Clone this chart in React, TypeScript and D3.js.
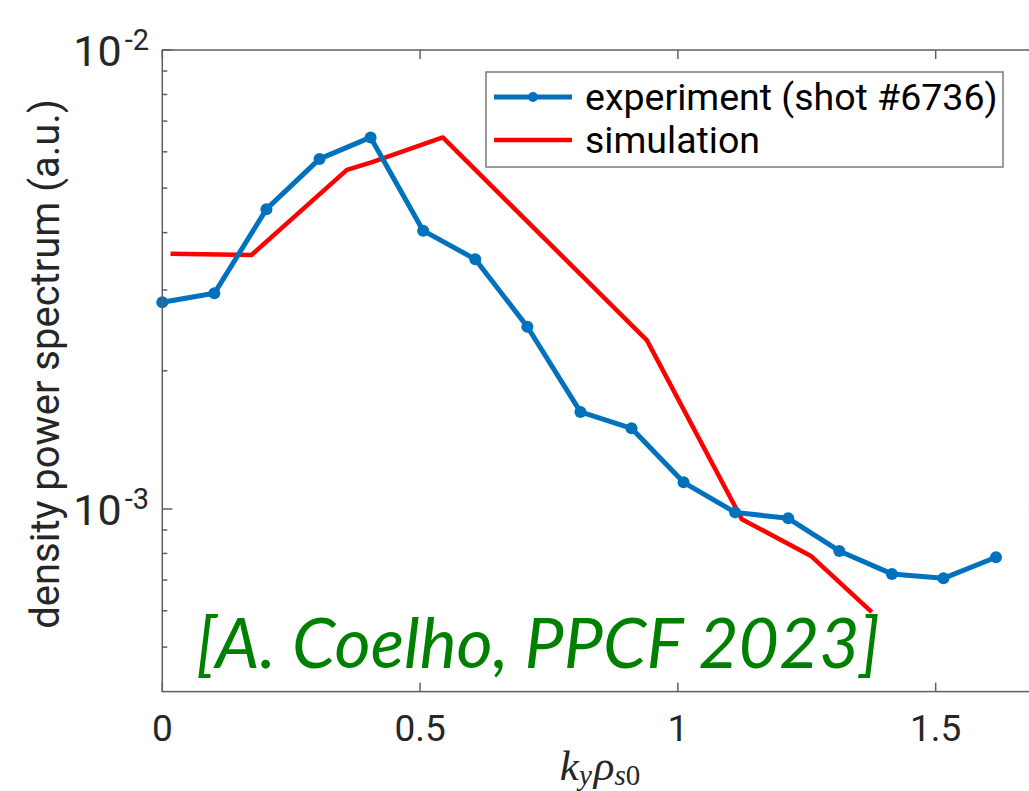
import React from "react";
import * as d3 from "d3";

// experiment (shot #6736)
const expK = [0, 0.101, 0.202, 0.305, 0.404, 0.506, 0.607, 0.708, 0.811, 0.91, 1.011, 1.111, 1.214, 1.313, 1.415, 1.515, 1.617];
const expP = [2.82e-3, 2.95e-3, 4.5e-3, 5.79e-3, 6.45e-3, 4.04e-3, 3.5e-3, 2.495e-3, 1.627e-3, 1.499e-3, 1.143e-3, 9.83e-4, 9.54e-4, 8.1e-4, 7.22e-4, 7.06e-4, 7.85e-4];
// simulation
const simK = [0.016, 0.173, 0.358, 0.407, 0.544, 0.94, 1.124, 1.258, 1.376];
const simP = [3.6e-3, 3.575e-3, 5.48e-3, 5.7e-3, 6.45e-3, 2.33e-3, 9.5e-4, 7.9e-4, 5.96e-4];

const xTicks = [0, 0.5, 1, 1.5];
const xTickLabels = ["0", "0.5", "1", "1.5"];
const yMajor = [1e-3, 1e-2];
const yMajorExp = ["-3", "-2"];
const yMinor = [5e-4, 6e-4, 7e-4, 8e-4, 9e-4, 2e-3, 3e-3, 4e-3, 5e-3, 6e-3, 7e-3, 8e-3, 9e-3];

const W = 1029, H = 791;
const L = 162.3, R = 1038.8, T = 50, B = 691.6;

export default function App() {
  const x = d3.scaleLinear().domain([0, 1.7]).range([L, R]);
  const y = d3.scaleLog().domain([4e-4, 1e-2]).range([B, T]);
  const line = d3.line<[number, number]>().x(d => x(d[0])).y(d => y(d[1]));
  const expPts = expK.map((k, i) => [k, expP[i]] as [number, number]);
  const simPts = simK.map((k, i) => [k, simP[i]] as [number, number]);
  const axisColor = "#5f5f5f";
  const textColor = "#262626";
  const font = "Roboto, 'Liberation Sans', Arial, sans-serif";
  const blue = "#0072BD";
  const red = "#FF0000";

  return (
    <svg width={W} height={H} style={{ position: "absolute", left: 0, top: 0, background: "#fff" }}>
      <rect x={0} y={0} width={W} height={H} fill="#fff" />
      {/* data */}
      <path d={line(simPts) || ""} fill="none" stroke={red} strokeWidth={4.5} strokeLinejoin="round" />
      <path d={line(expPts) || ""} fill="none" stroke={blue} strokeWidth={5} strokeLinejoin="round" />
      {expPts.map((p, i) => (
        <circle key={i} cx={x(p[0])} cy={y(p[1])} r={6} fill={blue} />
      ))}

      {/* axes box */}
      <rect x={L} y={T} width={R - L} height={B - T} fill="none" stroke={axisColor} strokeWidth={1.5} />
      {xTicks.map((t, i) => (
        <g key={i}>
          <line x1={x(t)} x2={x(t)} y1={B} y2={B - 9} stroke={axisColor} strokeWidth={1.5} />
          <line x1={x(t)} x2={x(t)} y1={T} y2={T + 9} stroke={axisColor} strokeWidth={1.5} />
          <text x={x(t)} y={741} textAnchor="middle" fontFamily={font} fontSize={37} fill={textColor}>{xTickLabels[i]}</text>
        </g>
      ))}
      {yMajor.map((v, i) => (
        <g key={i}>
          <line x1={L} x2={L + 10} y1={y(v)} y2={y(v)} stroke={axisColor} strokeWidth={1.5} />
          <line x1={R} x2={R - 10} y1={y(v)} y2={y(v)} stroke={axisColor} strokeWidth={1.5} />
          <text x={149} y={y(v) + 16} textAnchor="end" fontFamily={font} fill={textColor}>
            <tspan fontSize={43}>10</tspan>
            <tspan fontSize={29} dx={3} dy={-16}>{yMajorExp[i]}</tspan>
          </text>
        </g>
      ))}
      {yMinor.map((v, i) => (
        <g key={i}>
          <line x1={L} x2={L + 5} y1={y(v)} y2={y(v)} stroke={axisColor} strokeWidth={1.5} />
          <line x1={R} x2={R - 5} y1={y(v)} y2={y(v)} stroke={axisColor} strokeWidth={1.5} />
        </g>
      ))}

      {/* axis titles */}
      <text transform={`translate(59,364) rotate(-90)`} textAnchor="middle" fontFamily={font} fontSize={40} fill={textColor}>
        density power spectrum (a.u.)
      </text>
      <text x={600} y={780} textAnchor="middle" fontFamily="'Liberation Serif', 'DejaVu Serif', serif" fontStyle="italic" fill={textColor}>
        <tspan fontSize={43}>k</tspan>
        <tspan fontSize={29} dy={5}>y</tspan>
        <tspan fontSize={43} dy={-5} dx={2}>ρ</tspan>
        <tspan fontSize={29} dy={5}>s</tspan>
        <tspan fontSize={29} fontStyle="normal">0</tspan>
      </text>

      {/* legend */}
      <rect x={486} y={72} width={517} height={95} fill="#fff" stroke="#7a7a7a" strokeWidth={1.5} />
      <line x1={494} x2={572} y1={97} y2={97} stroke={blue} strokeWidth={5} />
      <circle cx={533} cy={97} r={5} fill={blue} />
      <text x={585} y={97} dy="0.35em" fontFamily={font} fontSize={37.5} fill="#000">experiment (shot #6736)</text>
      <line x1={494} x2={572} y1={140} y2={140} stroke={red} strokeWidth={4.5} />
      <text x={585} y={140} dy="0.35em" fontFamily={font} fontSize={37.5} fill="#000">simulation</text>

      {/* citation */}
      <text x={196} y={668} fontFamily="Lato, 'Open Sans', sans-serif" fontStyle="italic" fontSize={70} fill="#008000" textLength={684} lengthAdjust="spacingAndGlyphs">
        [A. Coelho, PPCF 2023]
      </text>
    </svg>
  );
}
